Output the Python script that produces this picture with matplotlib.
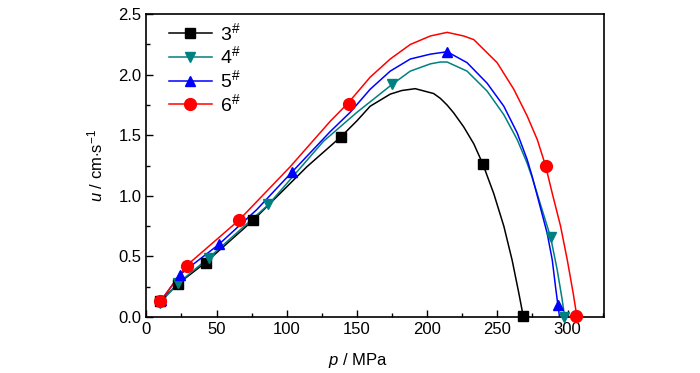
import matplotlib
matplotlib.use('Agg')
from matplotlib import pyplot as plt
from matplotlib.ticker import MultipleLocator, FormatStrFormatter

plt.rcParams['font.family'] = ['Liberation Sans', 'DejaVu Sans']
plt.rcParams['mathtext.fontset'] = 'custom'
plt.rcParams['mathtext.rm'] = 'Liberation Sans'
plt.rcParams['mathtext.it'] = 'Liberation Sans:italic'

labels = ['3$^{\\#}$', '4$^{\\#}$', '5$^{\\#}$', '6$^{\\#}$']
colors = ['black', '#008080', '#0000ff', '#ff0000']
markers = ['s', 'v', '^', 'o']

# curves (p in MPa, u in cm/s)
p3_line = [10, 22.7, 42.2, 76.2, 114.3, 138.8, 150, 159.4, 173.7, 182, 191.5, 204.6, 209.4, 214.2, 218.9,
           226, 233.2, 239.6, 247.4, 254.6, 260.5, 265.3, 267.7, 268.4]
u3_line = [0.13, 0.275, 0.45, 0.80, 1.24, 1.49, 1.62, 1.74, 1.84, 1.87, 1.885, 1.845, 1.805, 1.75, 1.685,
           1.57, 1.43, 1.264, 1.02, 0.75, 0.47, 0.196, 0.05, 0.01]
p4_line = [10.1, 22.7, 44.6, 86.9, 126.1, 150, 175, 188, 202.3, 209.4, 214.2, 228.4, 242.7, 254.6, 264.1,
           271.2, 274.8, 287.9, 292.6, 296.2, 297.9]
u4_line = [0.12, 0.28, 0.49, 0.927, 1.45, 1.69, 1.92, 2.03, 2.09, 2.105, 2.105, 2.03, 1.865, 1.67, 1.465,
           1.27, 1.15, 0.66, 0.39, 0.14, 0.0]
p5_line = [10.8, 23.9, 51.7, 78.6, 103.6, 130.9, 145.2, 159.4, 173.7, 188, 202.3, 214.2, 228.4, 242.7, 254.6,
           264.1, 271.2, 274.8, 285.5, 289.1, 291.4, 293.1, 294.3]
u5_line = [0.14, 0.35, 0.60, 0.886, 1.195, 1.53, 1.69, 1.88, 2.03, 2.13, 2.17, 2.19, 2.10, 1.93, 1.74,
           1.52, 1.30, 1.16, 0.69, 0.47, 0.25, 0.10, 0.0]
p6_line = [10.1, 28.7, 66, 102.4, 130.9, 144, 159.4, 173.7, 188, 202.3, 214.2, 226, 233.2, 249.8, 261.7,
           271.2, 278.4, 284.3, 289.1, 295, 299.8, 304, 306.4]
u6_line = [0.13, 0.425, 0.80, 1.24, 1.615, 1.77, 1.98, 2.13, 2.25, 2.32, 2.35, 2.32, 2.29, 2.10, 1.88,
           1.66, 1.465, 1.25, 1.02, 0.75, 0.47, 0.196, 0.02]

# measured points (markers)
p3 = [10, 22.7, 42.2, 76.2, 138.8, 239.6, 268.4]
u3 = [0.13, 0.275, 0.45, 0.80, 1.49, 1.264, 0.01]
p4 = [10.1, 22.7, 44.6, 86.9, 175, 287.9, 297.4]
u4 = [0.12, 0.28, 0.49, 0.93, 1.92, 0.66, 0.0]
p5 = [10.8, 23.9, 51.7, 103.6, 214.2, 293.1]
u5 = [0.14, 0.35, 0.60, 1.195, 2.19, 0.10]
p6 = [10.1, 28.7, 66, 144, 284.3, 306.2]
u6 = [0.13, 0.425, 0.80, 1.755, 1.25, 0.01]

lines = [(p3_line, u3_line), (p4_line, u4_line), (p5_line, u5_line), (p6_line, u6_line)]
points = [(p3, u3), (p4, u4), (p5, u5), (p6, u6)]
msizes = [6.5, 7.5, 7.5, 8.5]

fig = plt.figure(figsize=(7, 3.73), dpi=100)
ax = fig.add_axes([0.209, 0.150, 0.654, 0.812])

handles = []
for (pl, ul), (pm, um), c, m, ms, lab in zip(lines, points, colors, markers, msizes, labels):
    ax.plot(pl, ul, color=c, lw=1.1, zorder=2)
    ax.plot(pm, um, ls='none', marker=m, ms=ms, color=c, zorder=3, clip_on=False)
    h, = ax.plot([], [], color=c, lw=1.1, marker=m, ms=ms, label=lab)
    handles.append(h)

ax.set_xlim(0, 326)
ax.set_ylim(0, 2.5)
ax.xaxis.set_major_locator(MultipleLocator(50))
ax.xaxis.set_minor_locator(MultipleLocator(25))
ax.yaxis.set_major_locator(MultipleLocator(0.5))
ax.yaxis.set_minor_locator(MultipleLocator(0.25))
ax.yaxis.set_major_formatter(FormatStrFormatter('%.1f'))
ax.tick_params(which='both', direction='in', top=False, right=False, labelsize=12)
ax.tick_params(which='major', length=5, width=1)
ax.tick_params(which='minor', length=3, width=1)
for s in ax.spines.values():
    s.set_linewidth(1.2)

ax.set_xlabel('$\\mathit{p}$ / MPa', fontsize=12)
ax.xaxis.set_label_coords(0.463, -0.112)
ax.set_ylabel('$\\mathit{u}$ / cm$\\cdot$s$^{-1}$', fontsize=12, labelpad=9)

ax.legend(handles=handles, loc='upper left', frameon=False, fontsize=14,
          handlelength=2.2, handletextpad=0.4, labelspacing=0.1,
          borderaxespad=0.3, bbox_to_anchor=(0.02, 1.02))

fig.savefig('out.png', dpi=100)
